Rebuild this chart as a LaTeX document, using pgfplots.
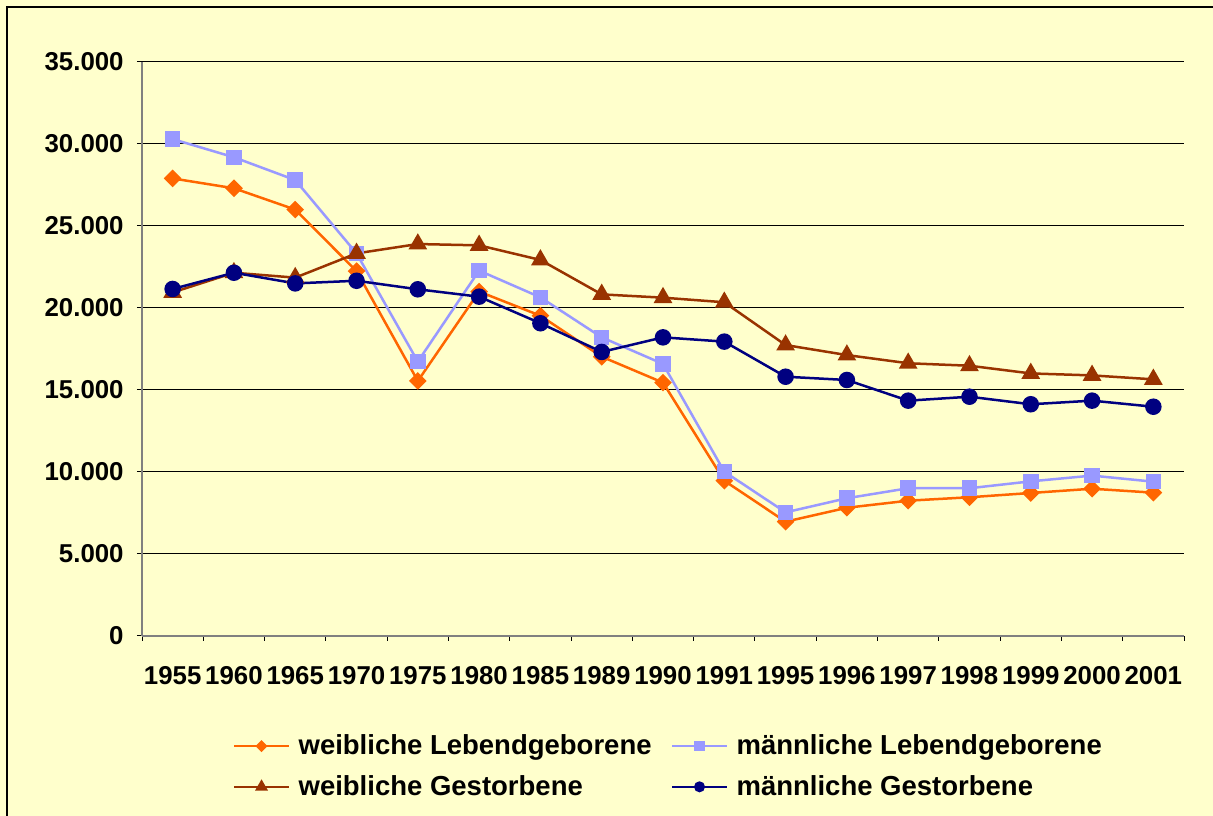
\documentclass[border=0pt]{standalone}
\usepackage{pgfplots}
\pgfplotsset{compat=1.18}
\usepackage{fontspec}
\setmainfont{Liberation Sans}
\definecolor{bgy}{HTML}{FFFFCC}
\definecolor{corange}{HTML}{FF6600}
\definecolor{cblue}{HTML}{9999FF}
\definecolor{cbrown}{HTML}{993300}
\definecolor{cnavy}{HTML}{000080}
\definecolor{axgray}{HTML}{808080}
\begin{document}
\begin{tikzpicture}
\path[use as bounding box] (0pt,0pt) rectangle (727.8pt,489.6pt);
\fill[bgy] (0pt,0pt) rectangle (727.8pt,489.6pt);
\draw[black, line width=1.2pt] (4.2pt,0pt) -- (4.2pt,485.4pt) -- (727.8pt,485.4pt);
\begin{axis}[
  at={(85.2pt,108pt)}, anchor=south west,
  width=625.2pt, height=344.4pt, scale only axis,
  xmin=-0.5, xmax=16.5, ymin=0, ymax=35000,
  axis x line*=bottom, axis y line*=left,
  axis line style={axgray, line width=1pt},
  xtick={0,...,16},
  xticklabels={1955,1960,1965,1970,1975,1980,1985,1989,1990,1991,1995,1996,1997,1998,1999,2000,2001},
  minor xtick={-0.5,0.5,...,16.5},
  major x tick style={draw=none},
  minor x tick style={draw=black, line width=0.6pt},
  ytick={0,5000,...,35000},
  y tick style={draw=black, line width=0.6pt},
  tick align=outside,
  major tick length=3pt, minor tick length=3pt,
  ymajorgrids,
  grid style={black, line width=0.6pt},
  scaled y ticks=false,
  /pgf/number format/assume math mode=true,
  /pgf/number format/1000 sep={.},
  tick label style={font=\bfseries\fontsize{15.5}{18}\selectfont},
  xticklabel style={yshift=-11.7pt},
  yticklabel style={xshift=-4.5pt},
  clip=false,
  legend columns=2,
  legend style={at={(0.082,-0.16)}, anchor=north west, draw=none, fill=none,
    font=\bfseries\fontsize{16.5}{19}\selectfont, row sep=7pt,
    /tikz/every odd column/.append style={column sep=3pt},
    /tikz/every even column/.append style={column sep=9.5pt}},
  legend cell align=left,
  legend image code/.code={\draw[mark repeat=2,mark phase=2,#1,/tikz/every mark/.append style={scale=0.6}] plot coordinates {(0pt,0pt)(16.5pt,0pt)(33pt,0pt)};},
]
\addplot[corange, line width=1.5pt, mark=square*, mark size=3pt, mark options={rotate=45, fill=corange, draw=corange}] coordinates {
(0,27900)(1,27300)(2,26000)(3,22250)(4,15550)(5,21000)(6,19530)(7,17030)(8,15450)(9,9470)(10,6970)(11,7820)(12,8250)(13,8460)(14,8720)(15,8980)(16,8740)};
\addlegendentry{weibliche Lebendgeborene}
\addplot[cblue, line width=1.5pt, mark=square*, mark size=3.9pt, mark options={fill=cblue, draw=cblue}] coordinates {
(0,30300)(1,29190)(2,27800)(3,23330)(4,16730)(5,22280)(6,20650)(7,18210)(8,16590)(9,10020)(10,7540)(11,8400)(12,9010)(13,9010)(14,9430)(15,9780)(16,9410)};
\addlegendentry{männliche Lebendgeborene}
\addplot[cbrown, line width=1.5pt, mark=triangle*, mark size=5pt, mark options={fill=cbrown, draw=cbrown}] coordinates {
(0,20950)(1,22150)(2,21850)(3,23330)(4,23900)(5,23820)(6,22930)(7,20830)(8,20630)(9,20350)(10,17740)(11,17130)(12,16630)(13,16480)(14,16010)(15,15890)(16,15650)};
\addlegendentry{weibliche Gestorbene}
\addplot[cnavy, line width=1.5pt, mark=*, mark size=4.2pt, mark options={fill=cnavy, draw=cnavy}] coordinates {
(0,21160)(1,22150)(2,21500)(3,21660)(4,21140)(5,20690)(6,19070)(7,17320)(8,18210)(9,17950)(10,15810)(11,15610)(12,14350)(13,14590)(14,14130)(15,14350)(16,13980)};
\addlegendentry{männliche Gestorbene}
\end{axis}
\end{tikzpicture}
\end{document}
